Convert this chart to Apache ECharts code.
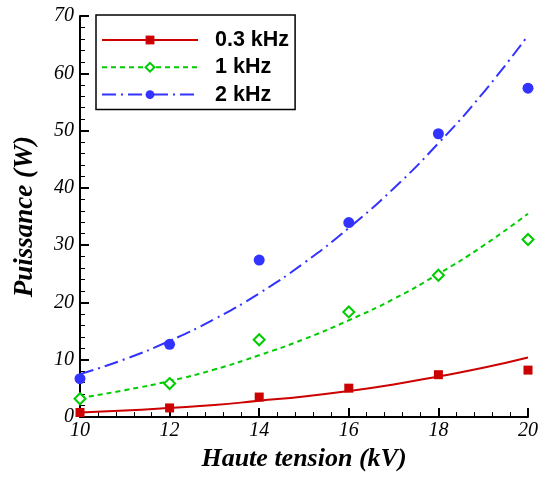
<!DOCTYPE html>
<html>
<head>
<meta charset="utf-8">
<script src="https://cdn.jsdelivr.net/npm/echarts@6/dist/echarts.min.js"></script>
<style>html,body{margin:0;padding:0;background:#fff;}#c{width:541px;height:477px;}</style>
</head>
<body>
<div id="c"></div>
<script>
// Measured points (kV, W)
const voltage = [10, 12, 14, 16, 18, 20];
const p03 = [0.8, 1.6, 3.5, 5.05, 7.4, 8.2];
const p1 = [3.2, 5.85, 13.5, 18.35, 24.75, 31.0];
const p2 = [6.7, 12.7, 27.4, 33.95, 49.45, 57.4];

// Fitted curves (kV, W)
const fitVoltage = [10, 11, 12, 13, 14, 15, 16, 17, 18, 19, 20];
const fit03 = [0.8, 1.15, 1.6, 2.1, 2.85, 3.6, 4.55, 5.7, 7.1, 8.6, 10.4];
const fit1 = [3.35, 4.7, 6.3, 8.3, 10.8, 13.6, 16.9, 20.6, 25.0, 29.9, 35.5];
const fit2 = [7.5, 10.1, 13.3, 17.1, 21.6, 26.9, 33.0, 39.9, 47.8, 56.6, 66.6];

const seriesNames = ['0.3 kHz', '1 kHz', '2 kHz'];
const xTitle = 'Haute tension (kV)';
const yTitle = 'Puissance (W)';

const RED = '#cc0000', GREEN = '#00cc00', BLUE = '#3333ff';
const pair = (xs, ys) => xs.map((x, i) => [x, ys[i]]);

const chart = echarts.init(document.getElementById('c'));
const axisCommon = {
  axisLine: { show: true, lineStyle: { color: '#000', width: 2 } },
  axisTick: { inside: true, length: 9, lineStyle: { color: '#000', width: 2 } },
  minorTick: { show: true, splitNumber: 5, length: 5, lineStyle: { color: '#000', width: 1 } },
  splitLine: { show: false },
  axisLabel: { fontFamily: 'Liberation Serif', fontStyle: 'italic', fontSize: 20, color: '#000' },
  nameTextStyle: { fontFamily: 'Liberation Serif', fontStyle: 'italic', fontWeight: 'bold', fontSize: 26, color: '#000' }
};
chart.setOption({
  animation: false,
  backgroundColor: '#fff',
  grid: { left: 80, right: 10, top: 16, bottom: 50, containLabel: false },
  xAxis: Object.assign({}, axisCommon, {
    type: 'value', min: 10, max: 20, interval: 2,
    name: xTitle, nameLocation: 'middle', nameGap: 21,
    axisLabel: Object.assign({}, axisCommon.axisLabel, { margin: 4 })
  }),
  yAxis: Object.assign({}, axisCommon, {
    type: 'value', min: 0, max: 70, interval: 10,
    name: yTitle, nameLocation: 'middle', nameGap: 41,
    nameTextStyle: Object.assign({}, axisCommon.nameTextStyle, { fontSize: 27 }),
    axisLabel: Object.assign({}, axisCommon.axisLabel, { margin: 6 })
  }),
  legend: {
    left: 96, top: 15, orient: 'vertical',
    data: seriesNames,
    selectedMode: false,
    itemWidth: 96, itemHeight: 11, itemGap: 5.3,
    padding: [14, 6, 4, 5],
    borderColor: '#000', borderWidth: 1.5, backgroundColor: '#fff',
    textStyle: { fontFamily: 'Liberation Sans', fontWeight: 'bold', fontSize: 21.5, lineHeight: 20, color: '#000', padding: [0, 0, 0, 12] }
  },
  series: [
    { name: seriesNames[0], type: 'line', smooth: true, showSymbol: false, symbol: 'rect', data: pair(fitVoltage, fit03),
      itemStyle: { color: RED }, lineStyle: { color: RED, width: 2, type: 'solid' }, z: 3 },
    { name: seriesNames[1], type: 'line', smooth: true, showSymbol: false, symbol: 'emptyDiamond', data: pair(fitVoltage, fit1),
      itemStyle: { color: GREEN }, lineStyle: { color: GREEN, width: 2, type: [5, 4] }, z: 3 },
    { name: seriesNames[2], type: 'line', smooth: true, showSymbol: false, symbol: 'circle', data: pair(fitVoltage, fit2),
      itemStyle: { color: BLUE }, lineStyle: { color: BLUE, width: 2, type: [14, 5, 2, 5] }, z: 3 },
    { name: 'm03', type: 'scatter', symbol: 'rect', symbolSize: 9, data: pair(voltage, p03),
      itemStyle: { color: RED, opacity: 1 }, z: 4 },
    { name: 'm1', type: 'scatter', symbol: 'diamond', symbolSize: 11, data: pair(voltage, p1),
      itemStyle: { color: '#fff', borderColor: GREEN, borderWidth: 2, opacity: 1 }, z: 4 },
    { name: 'm2', type: 'scatter', symbol: 'circle', symbolSize: 11, data: pair(voltage, p2),
      itemStyle: { color: BLUE, opacity: 1 }, z: 4 }
  ]
});
</script>
</body>
</html>
